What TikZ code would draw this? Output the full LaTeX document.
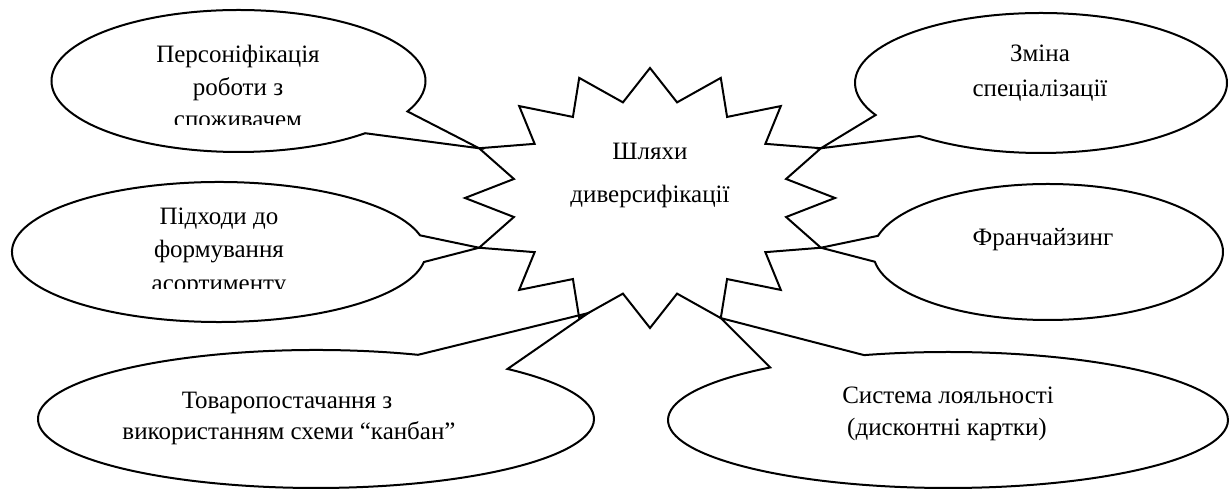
\documentclass[tikz,border=0pt]{standalone}
\usepackage{fontspec}
\setmainfont{Liberation Serif}
\usetikzlibrary{shapes.callouts,calc}
\begin{document}
\begin{tikzpicture}[x=0.5pt,y=-0.5pt,
  ink/.style={draw=black, line width=1pt, line join=miter},
  bubble/.style={ellipse callout, ink, inner sep=0pt, outer sep=0pt, callout pointer arc=22},
  txt/.style={font=\fontsize{12.5}{15}\selectfont, anchor=base, inner sep=0pt}
]
\useasboundingbox (0,0) rectangle (1232,490);
\clip (0,0) rectangle (1232,490);

% 16-point star: outer and inner vertices on two concentric ellipses
\coordinate (sc) at (650,198);
\foreach \k in {0,...,31}{
  \pgfmathsetmacro\sa{-90+11.25*\k}
  \pgfmathsetmacro\sf{mod(\k,2)==0 ? 1 : 0.75}
  \coordinate (s\k) at ($(sc)+({\sa}:{185*\sf} and {130*\sf})$);
}
\draw[ink] (s0) \foreach \k in {1,...,31}{ -- (s\k) } -- cycle;
\node[txt] (st1) at (650,160) {Шляхи};
\node[txt] (st2) at (650,203) {диверсифікації};

% free end of the lower-left pointer, just beside a star tip
\coordinate (p5) at ($(s18)+(9,-5)$);

% callouts
\node[bubble, minimum width=187pt, minimum height=71pt, callout absolute pointer={(s26)}] (c1) at (238.5,81) {};
\node[bubble, minimum width=186pt, minimum height=70pt, callout absolute pointer={(s6)}]  (c2) at (1041,83) {};
\node[bubble, minimum width=207pt, minimum height=70pt, callout absolute pointer={(s22)}] (c3) at (219,252) {};
\node[bubble, minimum width=175pt, minimum height=68pt, callout absolute pointer={(s10)}] (c4) at (1048,252) {};
\node[bubble, minimum width=278pt, minimum height=69pt, callout absolute pointer={(p5)}]  (c5) at (316,419) {};
\node[bubble, minimum width=280pt, minimum height=68pt, callout absolute pointer={(s14)}] (c6) at (948,420) {};

% callout texts
\node[txt] (t1a) at (238,63) {Персоніфікація};
\node[txt] (t1b) at (238,96) {роботи з};
\begin{scope}
  \clip (0,0) rectangle (1232,124.5);
  \node[txt] (t1c) at (238,128) {споживачем};
\end{scope}

\node[txt] (t2a) at (1040,62) {Зміна};
\node[txt] (t2b) at (1040,97) {спеціалізації};

\node[txt] (t3a) at (219,225) {Підходи до};
\node[txt] (t3b) at (219,258) {формування};
\begin{scope}
  \clip (0,0) rectangle (1232,289);
  \node[txt] (t3c) at (219,292) {асортименту};
\end{scope}

\node[txt] (t4a) at (1043,246) {Франчайзинг};

\node[txt] (t5a) at (287,409) {Товаропостачання з};
\node[txt] (t5b) at (289,440) {використанням схеми “канбан”};

\node[txt] (t6a) at (948,404) {Система лояльності};
\node[txt] (t6b) at (947,436) {(дисконтні картки)};
\end{tikzpicture}
\end{document}
